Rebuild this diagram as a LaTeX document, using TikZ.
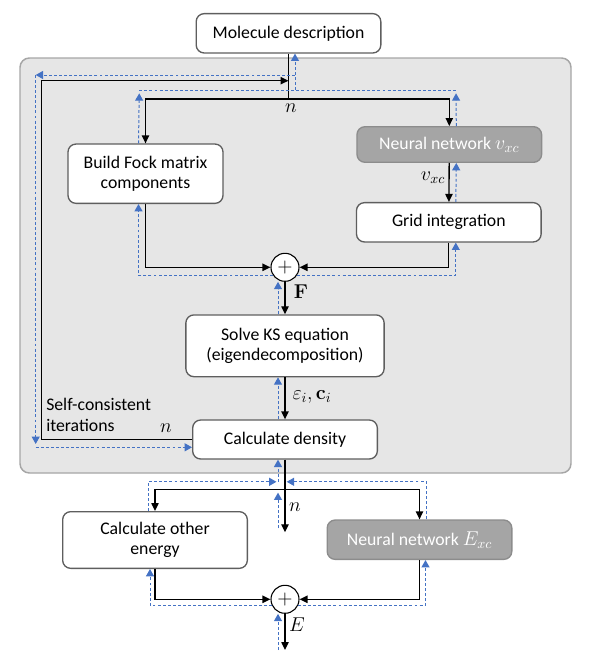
\RequirePackage{fix-cm}
\documentclass[tikz,border=0pt]{standalone}
\usepackage[no-math]{fontspec}
\setmainfont{Carlito}
\usetikzlibrary{arrows.meta,calc}

\definecolor{rahmen}{HTML}{5E5E5E}
\definecolor{hinter}{HTML}{E6E6E6}
\definecolor{hinterrand}{HTML}{A6A6A6}
\definecolor{netz}{HTML}{A5A5A5}
\definecolor{netzrand}{HTML}{8C8C8C}
\definecolor{gradblau}{HTML}{4472C4}

\newcommand{\formelgr}{\fontsize{15}{18}\selectfont}

\tikzset{
  kasten/.style={draw=rahmen, line width=1pt, fill=white, rounded corners=6pt, align=center,
    minimum width=138.5pt, minimum height=29.5pt, inner sep=2pt},
  netzkasten/.style={kasten, draw=netzrand, fill=netz, text=white},
  summe/.style={circle, draw, line width=0.8pt, fill=white, minimum size=21pt, inner sep=0pt, font=\formelgr},
  formel/.style={font=\formelgr},
  fwd/.style={line width=1pt, -{Triangle[length=6pt,width=5.5pt]}},
  grad/.style={draw=gradblau, line width=0.75pt, dash pattern=on 2.2pt off 1.6pt,
    -{Triangle[length=5.5pt,width=6pt]}},
  ecke/.style={shorten >=2.5pt}
}

\begin{document}
\begin{tikzpicture}[x=0.75pt, y=-0.75pt, font=\fontsize{13.3}{15.5}\selectfont]
\useasboundingbox (0,0) rectangle (590,664);

% Hintergrund
\draw[fill=hinter, draw=hinterrand, line width=1.1pt, rounded corners=7pt] (20,58) rectangle (571,473);

% Kaesten
\node[kasten] (mol) at (288.5,33.3) {Molecule description};
\node[kasten, minimum width=116.25pt, minimum height=44.5pt] (fock) at (145.5,173.7) {Build Fock matrix\\components};
\node[netzkasten, minimum height=26.7pt] (nnv) at (449.3,144.5) {Neural network {\formelgr$v_{xc}$}};
\node[kasten] (grid) at (448.8,222.3) {Grid integration};
\node[summe] (plus1) at (285,267.3) {$+$};
\node[kasten, minimum width=148.7pt, minimum height=46.3pt] (ks) at (285,345.8) {Solve KS equation\\(eigendecomposition)};
\node[kasten, minimum height=29.25pt] (dens) at (285,439.5) {Calculate density};
\node[kasten, minimum height=42.5pt] (other) at (155,540) {Calculate other\\energy};
\node[netzkasten] (nne) at (419.5,539.7) {Neural network {\formelgr$E_{xc}$}};
\node[summe] (plus2) at (285,599.3) {$+$};

% Hilfspunkte
\coordinate (br1) at (288.5,99);
\coordinate (lp) at (41.7,80.7);
\coordinate (br2) at (285,489.3);
\coordinate (nend) at (285,532.3);
\coordinate (eend) at (285,650);

% Vorwaerts
\draw[line width=1pt] (mol.south) -- (br1);
\draw[fwd] (br1) -| (fock.north);
\draw[fwd] (br1) -| (nnv.north);
\draw[fwd] (nnv) -- (grid);
\draw[fwd] (fock.south) |- (plus1.west);
\draw[fwd] (grid.south) |- (plus1.east);
\draw[fwd] (plus1) -- (ks);
\draw[fwd] (ks) -- (dens);
\draw[fwd] (dens.west) -| (lp) -- (lp -| mol.south); % Schleife
\draw[fwd] (dens.south) -- (nend);
\draw[fwd] (br2) -| (other.north);
\draw[fwd] (br2) -| (nne.north);
\draw[fwd] (other.south) |- (plus2.west);
\draw[fwd] (nne.south) |- (plus2.east);
\draw[fwd] (plus2) -- (eend);

% Gradienten
\coordinate (ga) at (139.3,90);
\coordinate (gb) at (456,90);
\coordinate (gc) at (295,90);
\coordinate (gd) at (295,75);
\coordinate (ge) at (35.7,75);
\coordinate (gf) at (35.7,447.3);
\draw[grad, ecke] ($(fock.north)+(-7,0)$) -- (ga);
\draw[grad, -] (ga) -- (gb);
\draw[grad, ecke] ($(nnv.north)+(7,0)$) -- (gb);
\draw[grad] (gc) -- ($(mol.south)+(6.5,0)$);
\draw[grad] (gd) -- (ge);
\draw[grad, ecke] (ge) -- (gf);
\draw[grad] (gf) -- (gf -| dens.west);
\draw[grad] ($(grid.north)+(7,0)$) -- ($(nnv.south)+(7,0)$);
\draw[grad] ($(plus1.center)+(-12,8)$) -| ($(fock.south)+(-7,0)$);
\draw[grad] ($(plus1.center)+(12,8)$) -| ($(grid.south)+(7,0)$);
\draw[grad] ($(ks.north)+(-7,0)$) -- ($(plus1.south)+(-7,0)$);
\draw[grad] ($(dens.north)+(-7,0)$) -- ($(ks.south)+(-7,0)$);
\draw[grad] ($(br2)+(-7,-7.5)$) -- ($(dens.south)+(-7,0)$);
\draw[grad, ecke] ($(nend)+(-7,-4)$) -- ($(br2)+(-7,0)$);
\draw[grad] ($(other.north)+(-7,0)$) |- ($(br2)+(-8.5,-7.5)$);
\draw[grad] ($(nne.north)+(7,0)$) |- ($(br2)+(1.7,-7.5)$);
\draw[grad] ($(plus2.center)+(-13,6)$) -| ($(other.south)+(-5,0)$);
\draw[grad] ($(plus2.center)+(13,6)$) -| ($(nne.south)+(6,0)$);
\draw[grad] ($(eend)+(-7,0)$) -- ($(plus2.south)+(-7,0)$);

% Beschriftungen
\node[formel] (ntop) at (291,108) {$n$};
\node[formel] (lvxc) at (433,178) {$v_{xc}$};
\node[formel] (lF) at (301,292) {$\mathbf{F}$};
\node[formel] (leps) at (312,397) {$\varepsilon_i, \mathbf{c}_i$};
\node[formel] (nloop) at (166,428) {$n$};
\node[formel] (nbot) at (295,507) {$n$};
\node[formel] (lE) at (297,625) {$E$};
\node[align=left, anchor=west, inner sep=0pt] (scf) at (46,415) {Self-consistent\\iterations};

\end{tikzpicture}
\end{document}
